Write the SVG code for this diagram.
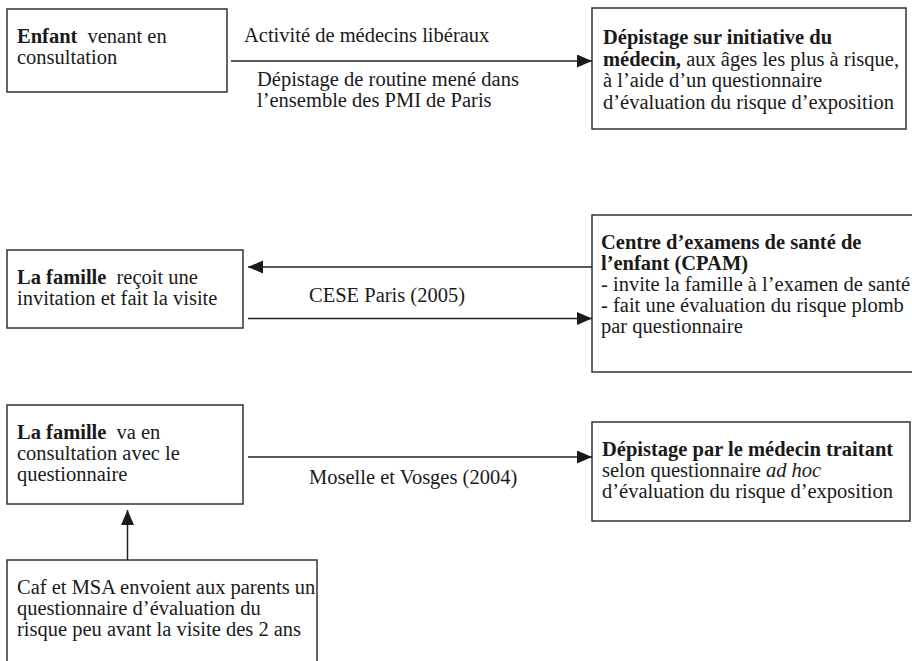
<svg xmlns="http://www.w3.org/2000/svg" width="912" height="661" viewBox="0 0 912 661">
<defs>
<style>
.box{fill:#fff;stroke:#333;stroke-width:1.5}
.t{font-family:"Liberation Serif","Times New Roman",serif;font-size:20.5px;fill:#1a1a1a}
.b{font-weight:bold}
.i{font-style:italic}
.c{stroke:#222;stroke-width:1.5;fill:none}
</style>
<marker id="ah" markerUnits="userSpaceOnUse" markerWidth="16" markerHeight="14" refX="15" refY="6.5" orient="auto">
<path d="M0,0 L15,6.5 L0,13 z" fill="#1a1a1a"/>
</marker>
</defs>
<rect width="912" height="661" fill="#fff"/>

<g id="n-enfant">
<rect class="box" x="7" y="9" width="220" height="83"/>
<text class="t" x="17" y="43"><tspan class="b">Enfant</tspan><tspan dx="5"> venant en</tspan></text>
<text class="t" x="17" y="64">consultation</text>
</g>

<g id="n-depistage-initiative">
<rect class="box" x="592" y="8" width="314" height="121"/>
<text class="t" x="603" y="44"><tspan class="b">Dépistage sur initiative du</tspan></text>
<text class="t" x="603" y="65.5"><tspan class="b">médecin,</tspan> aux âges les plus à risque,</text>
<text class="t" x="603" y="87">à l’aide d’un questionnaire</text>
<text class="t" x="603" y="108.5">d’évaluation du risque d’exposition</text>
</g>

<g id="n-famille-invitation">
<rect class="box" x="7" y="250" width="236" height="78"/>
<text class="t" x="17" y="284"><tspan class="b">La famille</tspan><tspan dx="5"> reçoit une</tspan></text>
<text class="t" x="17" y="305">invitation et fait la visite</text>
</g>

<g id="n-centre-examens">
<rect class="box" x="592" y="215" width="330" height="157"/>
<text class="t" x="601" y="249"><tspan class="b">Centre d’examens de santé de</tspan></text>
<text class="t" x="601" y="270"><tspan class="b">l’enfant (CPAM)</tspan></text>
<text class="t" x="601" y="291">- invite la famille à l’examen de santé</text>
<text class="t" x="601" y="312">- fait une évaluation du risque plomb</text>
<text class="t" x="601" y="333">par questionnaire</text>
</g>

<g id="n-famille-consultation">
<rect class="box" x="7" y="405" width="236" height="99"/>
<text class="t" x="17" y="439"><tspan class="b">La famille</tspan><tspan dx="5"> va en</tspan></text>
<text class="t" x="17" y="460">consultation avec le</text>
<text class="t" x="17" y="481">questionnaire</text>
</g>

<g id="n-depistage-traitant">
<rect class="box" x="592" y="422" width="318" height="99"/>
<text class="t" x="602" y="456"><tspan class="b">Dépistage par le médecin traitant</tspan></text>
<text class="t" x="602" y="477">selon questionnaire <tspan class="i">ad hoc</tspan></text>
<text class="t" x="602" y="498">d’évaluation du risque d’exposition</text>
</g>

<g id="n-caf-msa">
<rect class="box" x="7" y="560" width="310" height="120"/>
<text class="t" x="17" y="594">Caf et MSA envoient aux parents un</text>
<text class="t" x="17" y="615">questionnaire d’évaluation du</text>
<text class="t" x="17" y="636">risque peu avant la visite des 2 ans</text>
</g>

<g id="connectors">
<line class="c" x1="231" y1="61" x2="592" y2="61" marker-end="url(#ah)"/>
<line class="c" x1="592" y1="267" x2="248" y2="267" marker-end="url(#ah)"/>
<line class="c" x1="248" y1="318.5" x2="592" y2="318.5" marker-end="url(#ah)"/>
<line class="c" x1="248" y1="457" x2="592" y2="457" marker-end="url(#ah)"/>
<line class="c" x1="127.5" y1="560" x2="127.5" y2="510" marker-end="url(#ah)"/>
</g>

<g id="labels">
<text class="t" x="244" y="42">Activité de médecins libéraux</text>
<text class="t" x="257" y="86">Dépistage de routine mené dans</text>
<text class="t" x="257" y="107">l’ensemble des PMI de Paris</text>
<text class="t" x="309" y="302">CESE Paris (2005)</text>
<text class="t" x="309" y="484">Moselle et Vosges (2004)</text>
</g>
</svg>
